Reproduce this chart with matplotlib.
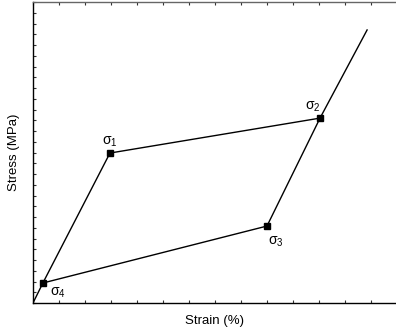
import numpy as np
import matplotlib
matplotlib.use("Agg")
import matplotlib.pyplot as plt

plt.rcParams.update({
    "font.family": ["Liberation Sans", "DejaVu Sans"],
    "font.size": 9.5,
    "mathtext.fontset": "custom",
    "mathtext.rm": "Liberation Sans",
    "mathtext.it": "Liberation Sans",
})

# 加载路径: 原点 -> σ4 -> σ1 -> σ2 -> 末端
load_x = [0.0, 0.38, 2.96, 11.04, 12.85]
load_y = [0.0, 1.86, 13.95, 17.2, 25.4]
# 卸载路径: σ4 -> σ3 -> σ2
unload_x = [0.38, 9.0, 11.04]
unload_y = [1.86, 7.16, 17.2]

pt_names = ["1", "2", "3", "4"]
pt_x = [2.96, 11.04, 9.0, 0.38]
pt_y = [13.95, 17.2, 7.16, 1.86]

fig = plt.figure(figsize=(3.96, 3.36), dpi=100)
ax = fig.add_axes([0.0833, 0.0982, 0.9192, 0.8958])

ax.plot(load_x, load_y, color="black", lw=1.0)
ax.plot(unload_x, unload_y, color="black", lw=1.0)
ax.plot(pt_x, pt_y, "s", color="black", ms=5, ls="none")

# 标注偏移 (points)
offs = [(0, 8), (-5, 8), (6, -11), (11, -7)]
for name, x, y, (dx, dy) in zip(pt_names, pt_x, pt_y, offs):
    ax.annotate(r"$\mathregular{\sigma_{%s}}$" % name, (x, y), xytext=(dx, dy),
                textcoords="offset points", ha="center", va="center", fontsize=10)

ax.set_xlim(0, 14)
ax.set_ylim(0, 28)
ax.set_xticks(np.arange(0, 15, 1))
ax.set_yticks(np.arange(0, 29, 1))
ax.set_xticklabels([])
ax.set_yticklabels([])
ax.tick_params(direction="in", length=2.5, width=0.8, top=True, right=False,
               colors="#333333")
ax.spines["right"].set_visible(False)
for s in ["left", "bottom"]:
    ax.spines[s].set_linewidth(1.0)
ax.spines["top"].set_linewidth(1.0)
ax.spines["top"].set_color("#666666")

ax.set_xlabel("Strain (%)", labelpad=5)
ax.set_ylabel("Stress (MPa)", labelpad=6)

fig.savefig("out.png", dpi=100)
